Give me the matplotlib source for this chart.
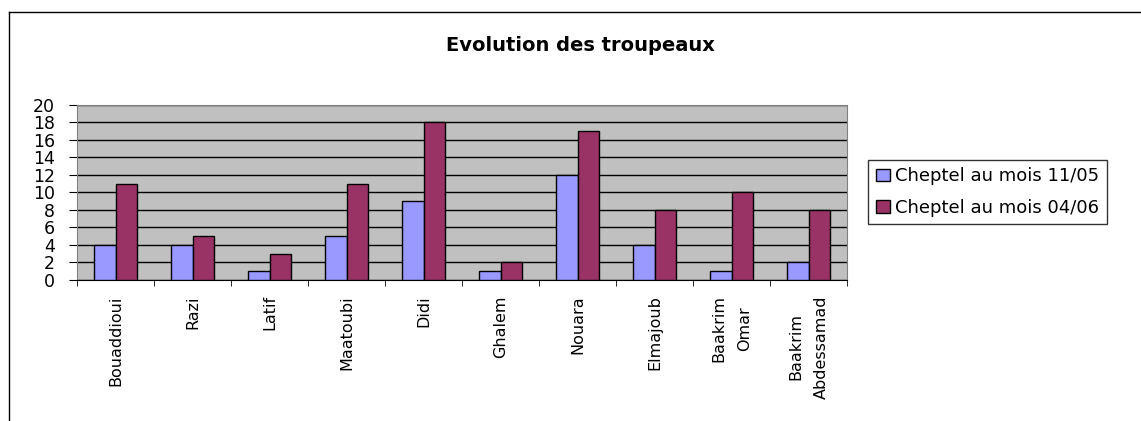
import numpy as np
import matplotlib
matplotlib.use("Agg")
import matplotlib.pyplot as plt
from matplotlib.lines import Line2D

# Data
eleveurs = ["Bouaddioui", "Razi", "Latif", "Maatoubi", "Didi", "Ghalem",
            "Nouara", "Elmajoub", "Baakrim\nOmar", "Baakrim\nAbdessamad"]
cheptel_1105 = [4, 4, 1, 5, 9, 1, 12, 4, 1, 2]
cheptel_0406 = [11, 5, 3, 11, 18, 2, 17, 8, 10, 8]
yticks = list(range(0, 21, 2))

plt.rcParams['font.family'] = ['DejaVu Sans']

fig = plt.figure(figsize=(11.41, 4.21), dpi=100)
ax = fig.add_axes([0.0675, 0.335, 0.675, 0.416])

xs = np.arange(len(eleveurs))
w = 0.28
ax.bar(xs - w/2, cheptel_1105, w, color="#9999FF", edgecolor="black",
       linewidth=1, label="Cheptel au mois 11/05", zorder=3)
ax.bar(xs + w/2, cheptel_0406, w, color="#993366", edgecolor="black",
       linewidth=1, label="Cheptel au mois 04/06", zorder=3)

ax.set_facecolor("#C0C0C0")
ax.set_xlim(-0.5, len(eleveurs) - 0.5)
ax.set_ylim(0, 20)
ax.set_yticks(yticks)
ax.yaxis.grid(True, color="black", linewidth=1, zorder=1)
ax.set_axisbelow(True)
ax.tick_params(axis='y', labelsize=12.5, length=5.8, pad=10, direction='out')

ax.set_xticks(xs)
ax.set_xticklabels(eleveurs, rotation=90, fontsize=11.5, ha='center',
                   va='top', multialignment='center', linespacing=1.9)
ax.set_xticks(np.arange(-0.5, len(eleveurs)), minor=True)
ax.tick_params(axis='x', which='major', length=0, pad=11)
ax.tick_params(axis='x', which='minor', length=4.5, direction='out')

for s in ["top", "right", "left"]:
    ax.spines[s].set_color("#808080")
ax.spines["bottom"].set_color("black")

fig.text(0.509, 0.893, "Evolution des troupeaux", ha='center', va='center',
         fontsize=14, fontweight='bold')

leg = fig.legend(loc='upper left', bbox_to_anchor=(0.761, 0.620),
                 fontsize=13, frameon=True, fancybox=False,
                 edgecolor="black", handlelength=0.8, handleheight=0.7,
                 handletextpad=0.3, borderpad=0.4, labelspacing=0.75,
                 borderaxespad=0)
leg.get_frame().set_linewidth(1)

# outer chart frame
fig.add_artist(Line2D([0.008, 1.0], [0.971, 0.971], color="black", lw=1))
fig.add_artist(Line2D([0.008, 0.008], [0.0, 0.971], color="black", lw=1))

fig.savefig("out.png", dpi=100)
